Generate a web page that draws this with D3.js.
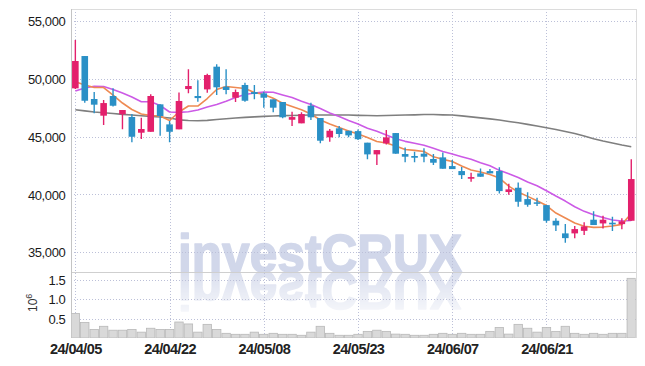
<!DOCTYPE html>
<html><head><meta charset="utf-8">
<script src="https://cdn.jsdelivr.net/npm/d3@7"></script>
<style>body{margin:0;background:#fff}svg{display:block}</style>
</head><body><svg id="c" width="645" height="366" xmlns:xlink="http://www.w3.org/1999/xlink"></svg>
<script>
const dates = ["24/04/05","24/04/08","24/04/09","24/04/11","24/04/12","24/04/15","24/04/16","24/04/17","24/04/18","24/04/19",
"24/04/22","24/04/23","24/04/24","24/04/25","24/04/26","24/04/29","24/04/30","24/05/02","24/05/03","24/05/07",
"24/05/08","24/05/09","24/05/10","24/05/13","24/05/14","24/05/16","24/05/17","24/05/20","24/05/21","24/05/22",
"24/05/23","24/05/24","24/05/27","24/05/28","24/05/29","24/05/30","24/05/31","24/06/03","24/06/04","24/06/05",
"24/06/07","24/06/10","24/06/11","24/06/12","24/06/13","24/06/14","24/06/17","24/06/18","24/06/19","24/06/20",
"24/06/21","24/06/24","24/06/25","24/06/26","24/06/27","24/06/28","24/07/01","24/07/02","24/07/03","24/07/04"];
const open  = [49160,51950,48240,46800,48500,46920,46690,45330,45410,47780,46050,45620,49100,48500,49070,51030,49300,48350,49450,48840,
48730,48210,47980,46450,46140,47660,46600,44930,45710,45500,45470,44470,43460,44410,45300,43490,43320,43520,43060,43200,
42450,42020,41360,41820,42020,42020,40210,40580,39600,39320,39080,37730,36640,36640,36860,37820,37500,37560,37440,37730];
const high  = [53330,51950,48840,48150,49160,47290,46940,46620,48640,47780,46340,48810,50800,49850,50420,51230,50800,49070,49650,49450,
48870,48210,47980,47140,47090,47920,46600,45650,45910,45500,45600,44470,43830,45560,45300,44060,43690,43980,43490,43630,
42970,42370,41870,42250,42200,42340,40920,41040,40180,39720,39080,37940,37440,37270,37590,38540,38160,38070,37940,43030];
const low   = [49100,47920,47000,45990,47600,45620,44500,44780,45410,45070,44500,45620,48730,48010,48780,48580,48640,47980,48000,48210,
47490,47090,46570,45910,46140,46420,44410,44550,44930,44930,44700,43030,42540,44320,43520,42780,42780,42780,42540,42220,
42190,41330,41100,41530,41820,40090,39970,38940,38940,39000,37560,36840,35830,36210,36490,37360,37070,36840,36990,37730];
const close = [51520,48090,47750,47890,47660,47290,44980,45650,48500,46770,45410,48070,49360,48320,50310,49250,49020,48840,48090,48670,
48350,47490,46660,46680,46940,46660,44640,45500,45220,45100,44770,43460,43830,44930,43520,43260,43170,43260,42740,42220,
42190,41670,41500,41530,41820,40290,40440,39370,39110,39200,37730,37330,36230,37010,37240,37360,37820,37420,37680,41330];
const volume = [0.63,0.40,0.22,0.30,0.20,0.20,0.22,0.15,0.25,0.22,0.22,0.41,0.36,0.15,0.35,0.22,0.12,0.095,0.095,0.15,
0.095,0.12,0.095,0.095,0.07,0.15,0.30,0.12,0.07,0.07,0.095,0.17,0.20,0.17,0.10,0.095,0.07,0.07,0.095,0.12,
0.095,0.12,0.095,0.095,0.17,0.27,0.10,0.35,0.25,0.15,0.27,0.17,0.30,0.12,0.095,0.12,0.095,0.12,0.12,1.53];
const maShort = [49732,49447,49231,49231,48584,47893,47332,46943,46813,46770,46382,47116,47634,47634,48282,49059,49318,49231,49145,48800,
48627,48299,47867,47591,47314,46943,46425,46079,45777,45475,45216,44913,44568,44439,44179,43877,43808,43704,43247,43031,
42841,42452,42107,41934,41718,41416,40725,40207,39836,39456,39041,38393,37962,37530,37253,37158,37184,37271,37418,38350];
const maMid = [48929,49188,49335,49318,49059,48757,48411,48005,48005,47677,47116,47090,47142,47288,47547,47763,48048,48368,48627,48757,
48843,48817,48584,48368,48040,47763,47418,47029,46727,46382,46079,45708,45449,45129,44810,44585,44421,44240,43981,43704,
43489,43255,43031,42737,42478,42081,41787,41459,41070,40751,40319,39861,39430,38937,38540,38238,38005,37789,37702,37746];
const maLong = [47314,47219,47116,47047,46986,46917,46857,46796,46744,46684,46598,46442,46382,46364,46399,46468,46537,46598,46658,46701,
46744,46779,46805,46822,46839,46857,46857,46857,46857,46857,46831,46813,46796,46813,46839,46857,46874,46900,46900,46874,
46857,46787,46701,46615,46528,46425,46304,46192,46053,45907,45760,45604,45432,45259,45043,44810,44611,44439,44266,44119];
const priceTicks = [35000,40000,45000,50000,55000];
const volTicks = [0.5,1.0,1.5];
const xTickLabels = ["24/04/05","24/04/22","24/05/08","24/05/23","24/06/07","24/06/21"];

const L = 71.3, R = 635.7, PT = 9, PB = 272.3, VB = 338;
const svg = d3.select('#c');
const FONT = 'Liberation Sans, Arial, sans-serif';
const x = d3.scaleLinear().domain([-0.43, 59.47]).range([L, R]);
const y = d3.scaleLinear().domain([33280, 56010]).range([PB, PT]);
const yv = d3.scaleLinear().domain([0, 1.7]).range([VB, VB - 1.7*39]);
const step = x(1) - x(0);
const idx = d3.range(dates.length);

const defs = svg.append('defs');
defs.append('clipPath').attr('id','cp').append('rect').attr('x',L).attr('y',PT).attr('width',R-L).attr('height',PB-PT);
defs.append('clipPath').attr('id','cv').append('rect').attr('x',L).attr('y',PB).attr('width',R-L).attr('height',VB-PB);
const gr = defs.append('linearGradient').attr('id','fade')
  .attr('gradientUnits','userSpaceOnUse').attr('x1',0).attr('y1',PB).attr('x2',0).attr('y2',PB+46);
gr.append('stop').attr('offset',0).attr('stop-color','#fff').attr('stop-opacity',0.8);
gr.append('stop').attr('offset',1).attr('stop-color','#fff').attr('stop-opacity',0.12);
defs.append('mask').attr('id','mk').attr('maskUnits','userSpaceOnUse').attr('x',0).attr('y',0).attr('width',645).attr('height',366)
  .append('rect').attr('x',0).attr('y',PB).attr('width',645).attr('height',70).attr('fill','url(#fade)');

// watermark
svg.append('text').attr('id','wm').attr('x',178).attr('y',PB).text('investCRUX').attr('font-family',FONT).attr('font-weight','bold')
  .attr('font-size',54).attr('textLength',284).attr('lengthAdjust','spacingAndGlyphs')
  .attr('fill','#d1d7ea').attr('stroke','#d1d7ea').attr('stroke-width',1.6).attr('stroke-linejoin','round');
svg.append('g').attr('mask','url(#mk)').attr('clip-path','url(#cv)')
  .append('use').attr('href','#wm').attr('xlink:href','#wm').attr('transform',`translate(0,${2*PB}) scale(1,-1)`);

// grid
const gc = '#bcc0d8';
const grid = svg.append('g').attr('stroke',gc).attr('stroke-width',1).attr('stroke-dasharray','1,2').attr('shape-rendering','crispEdges');
priceTicks.forEach(t => grid.append('line').attr('x1',L).attr('x2',R).attr('y1',Math.round(y(t))+0.5).attr('y2',Math.round(y(t))+0.5));
volTicks.forEach(t => grid.append('line').attr('x1',L).attr('x2',R).attr('y1',Math.round(yv(t))+0.5).attr('y2',Math.round(yv(t))+0.5));
xTickLabels.forEach(d => { const xx = Math.round(x(dates.indexOf(d)))+0.5;
  grid.append('line').attr('x1',xx).attr('x2',xx).attr('y1',PT).attr('y2',VB); });

// frame
const fr = svg.append('g').attr('fill','none').attr('shape-rendering','crispEdges');
fr.append('line').attr('x1',L).attr('x2',R+0.5).attr('y1',PT+0.5).attr('y2',PT+0.5).attr('stroke','#dcdcdc');
fr.append('line').attr('x1',R+0.5).attr('x2',R+0.5).attr('y1',PT).attr('y2',VB).attr('stroke','#dcdcdc');
fr.append('line').attr('x1',L).attr('x2',R).attr('y1',PB+0.5).attr('y2',PB+0.5).attr('stroke','#cfcfcf');
fr.append('line').attr('x1',L+0.5).attr('x2',L+0.5).attr('y1',PT).attr('y2',VB).attr('stroke','#c4c4c4');

// volume bars
svg.append('g').attr('clip-path','url(#cv)').selectAll('rect').data(idx).join('rect')
  .attr('x', i => x(i) - step/2 + 0.5).attr('width', step - 1)
  .attr('y', i => yv(volume[i])).attr('height', i => VB - yv(volume[i]))
  .attr('fill','#d9d9d9').attr('stroke','#b8b8b8').attr('stroke-width',0.8);

// MA lines
const pg = svg.append('g').attr('clip-path','url(#cp)');
const mkLine = (arr, col, w) => pg.append('path').datum(idx)
  .attr('d', d3.line().x(i => x(i)).y(i => y(arr[i])))
  .attr('fill','none').attr('stroke',col).attr('stroke-width',w).attr('stroke-linejoin','round');
mkLine(maLong, '#7f7f7f', 1.6);
mkLine(maMid, '#cc5ae6', 1.6);
mkLine(maShort, '#ee8a52', 1.6);

// candles
const UP = '#e3206c', DN = '#2a90c6';
const cg = pg.append('g');
const bw = 6.6;
cg.selectAll('line').data(idx).join('line')
  .attr('x1', i => x(i)).attr('x2', i => x(i))
  .attr('y1', i => y(high[i])).attr('y2', i => y(low[i]))
  .attr('stroke', i => close[i] >= open[i] ? UP : DN).attr('stroke-width',1.4);
cg.selectAll('rect').data(idx).join('rect')
  .attr('x', i => x(i) - bw/2).attr('width', bw)
  .attr('y', i => y(Math.max(open[i], close[i])))
  .attr('height', i => Math.max(1.5, Math.abs(y(open[i]) - y(close[i]))))
  .attr('fill', i => close[i] >= open[i] ? UP : DN);

// axes
const ya = svg.append('g').attr('transform',`translate(${L-6},0)`)
  .call(d3.axisLeft(y).tickValues(priceTicks).tickSize(0).tickFormat(d3.format(',')));
const va = svg.append('g').attr('transform',`translate(${L-6},0)`)
  .call(d3.axisLeft(yv).tickValues(volTicks).tickSize(0).tickFormat(d3.format('.1f')));
[ya, va].forEach(a => { a.select('.domain').remove();
  a.selectAll('text').attr('font-family',FONT).attr('font-size',13).attr('fill','#1a1a1a')
   .attr('letter-spacing','-0.4').attr('x',0).attr('dy','0.35em'); });
const xa = svg.append('g').attr('transform',`translate(0,${VB})`)
  .call(d3.axisBottom(x).tickValues(xTickLabels.map(d => dates.indexOf(d))).tickSize(0).tickFormat(i => dates[i]));
xa.select('.domain').remove();
xa.selectAll('text').attr('font-family',FONT).attr('font-size',14.5).attr('font-weight','bold').attr('fill','#222')
  .attr('letter-spacing','-0.6').attr('y',16).attr('dy','0');

// 10^6 label
const ul = svg.append('text').attr('transform','translate(37,312) rotate(-90)').attr('font-family',FONT).attr('fill','#333');
ul.append('tspan').attr('font-size',12).text('10');
ul.append('tspan').attr('font-size',9).attr('dy',-5).text('6');
</script></body></html>
